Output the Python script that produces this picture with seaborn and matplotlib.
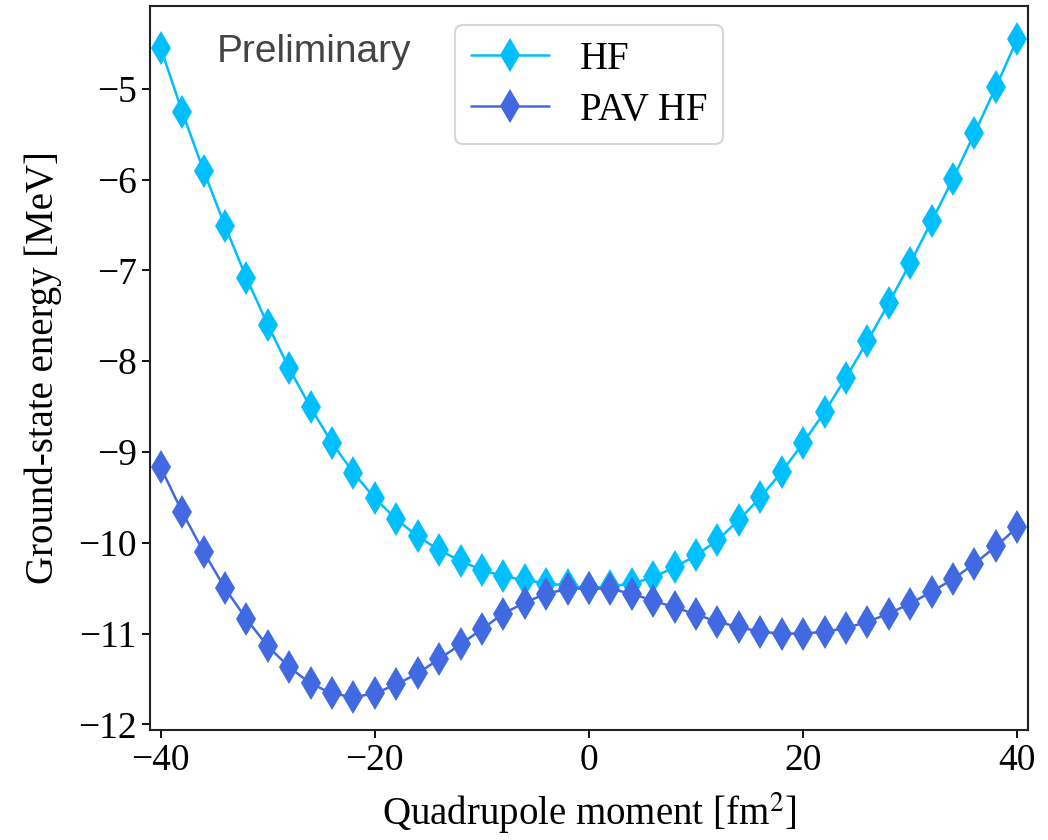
import numpy as np
import pandas as pd
import matplotlib
matplotlib.use("Agg")
import matplotlib.pyplot as plt
import seaborn as sns

# Data
q = list(range(-40, 42, 2))
hf = [-4.55, -5.25, -5.90, -6.51, -7.08, -7.60, -8.08, -8.51, -8.90, -9.23,
      -9.51, -9.74, -9.93, -10.08, -10.20, -10.30, -10.37, -10.41, -10.45, -10.47,
      -10.50,
      -10.48, -10.45, -10.38, -10.27, -10.14, -9.97, -9.75, -9.50, -9.22,
      -8.90, -8.56, -8.18, -7.78, -7.36, -6.92, -6.46, -5.99, -5.49, -4.98, -4.45]
pav = [-9.17, -9.66, -10.10, -10.50, -10.84, -11.14, -11.37, -11.55, -11.66, -11.70,
       -11.66, -11.56, -11.44, -11.28, -11.12, -10.95, -10.78, -10.66, -10.56, -10.51,
       -10.50,
       -10.51, -10.56, -10.64, -10.71, -10.79, -10.87, -10.93, -10.98, -11.00,
       -11.00, -10.98, -10.94, -10.87, -10.78, -10.67, -10.54, -10.40, -10.23, -10.04, -9.83]
labels = ["HF", "PAV HF"]
colors = ["#00BFFF", "#4169E1"]

sns.set_style("ticks")
plt.rcParams["font.family"] = ["Liberation Serif", "DejaVu Serif"]
plt.rcParams["mathtext.fontset"] = "stix"
for k in ["text.color", "axes.labelcolor", "xtick.color", "ytick.color"]:
    plt.rcParams[k] = "black"

fig = plt.figure(figsize=(10.48, 8.4), dpi=100)
ax = fig.add_axes([150/1048, 1-730/840, (1028-150)/1048, (730-6)/840])

for ys, lab, col in zip([hf, pav], labels, colors):
    df = pd.DataFrame({"q": q, "E": ys})
    sns.lineplot(data=df, x="q", y="E", ax=ax, color=col, marker="d",
                 markersize=17, markeredgewidth=0, linewidth=1.8, label=lab)

ax.set_xlim(-41, 41)
ax.set_xticks([-40, -20, 0, 20, 40])
ax.set_yticks([-12, -11, -10, -9, -8, -7, -6, -5])
ax.tick_params(labelsize=27, length=6, width=1.3, color="black", direction="out")
for s in ax.spines.values():
    s.set_linewidth(1.5)
    s.set_color("#222222")

ax.set_xlabel("Quadrupole moment [fm$^2$]", fontsize=28, labelpad=9)
ax.set_ylabel("Ground-state energy [MeV]", fontsize=28, labelpad=12)

ax.text(0.076, 0.923, "Preliminary", transform=ax.transAxes, fontsize=28,
        color="#444444", family=["Liberation Sans", "DejaVu Sans"],
        ha="left", va="baseline")

leg = ax.legend(loc="upper center", fontsize=28, frameon=True, borderaxespad=0.5,
                handlelength=2.0, labelspacing=0.35)
leg.get_frame().set_edgecolor("#cccccc")
leg.get_frame().set_linewidth(1.5)
for t in leg.get_texts():
    t.set_color("black")

fig.savefig("out.png", dpi=100)
